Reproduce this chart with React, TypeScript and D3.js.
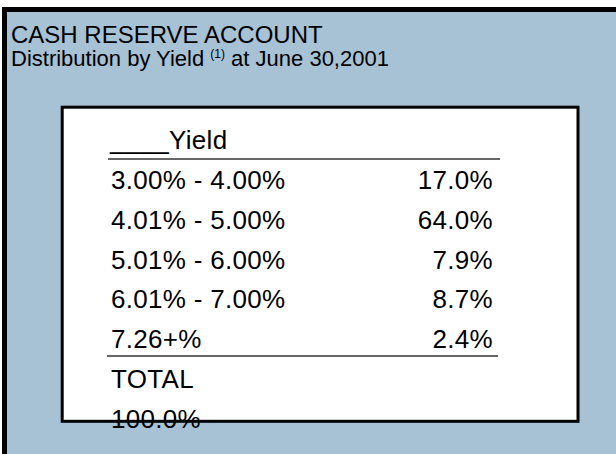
import React, { useEffect, useRef } from "react";
import * as d3 from "d3";

const titleLine1 = "CASH RESERVE ACCOUNT";
const titleLine2Parts = ["Distribution by Yield ", "(1)", " at June 30,2001"];
const headerLabel = "____Yield";
const yieldRanges = ["3.00% - 4.00%", "4.01% - 5.00%", "5.01% - 6.00%", "6.01% - 7.00%", "7.26+%"];
const shares = [17.0, 64.0, 7.9, 8.7, 2.4];
const totalLabel = "TOTAL";
const totalValue = 100.0;

const W = 616;
const H = 454;
const FONT = "'Liberation Sans', Arial, Helvetica, sans-serif";

export default function App() {
  const ref = useRef<SVGSVGElement | null>(null);

  useEffect(() => {
    const svg = d3.select(ref.current);
    svg.selectAll("*").remove();

    // frame
    svg.append("rect").attr("x", 0).attr("y", 0).attr("width", W).attr("height", H).attr("fill", "#ffffff");
    svg.append("rect").attr("x", 2).attr("y", 7).attr("width", W - 2).attr("height", H - 7).attr("fill", "#000000");
    svg.append("rect").attr("x", 7).attr("y", 12).attr("width", W - 7).attr("height", H - 12).attr("fill", "#a7c1d5");

    // title
    svg.append("text").attr("x", 11).attr("y", 43).attr("font-family", FONT).attr("font-size", 24)
      .attr("fill", "#000").text(titleLine1);
    const t2 = svg.append("text").attr("x", 11).attr("y", 66).attr("font-family", FONT).attr("font-size", 22)
      .attr("fill", "#000");
    t2.append("tspan").text(titleLine2Parts[0]);
    t2.append("tspan").attr("font-size", 12).attr("dy", -8).text(titleLine2Parts[1]);
    t2.append("tspan").attr("dy", 8).text(titleLine2Parts[2]);

    // inner box
    svg.append("rect").attr("x", 62.2).attr("y", 107.2).attr("width", 515.8).attr("height", 314.1)
      .attr("fill", "#ffffff").attr("stroke", "#000").attr("stroke-width", 3);

    // row scale: index -> baseline y
    const y = d3.scaleLinear().domain([0, 1]).range([189.3, 229]);
    const xLeft = 111;
    const xRight = 493;
    const xLine = d3.scaleLinear().domain([0, 1]).range([108, 500]);
    const fmt = d3.format(".1f");

    const g = svg.append("g").attr("font-family", FONT).attr("font-size", 26).attr("fill", "#000")
      .attr("letter-spacing", 0.3);

    g.append("text").attr("x", xLeft - 1).attr("y", y(-1) - 1).text(headerLabel);

    svg.append("line").attr("x1", xLine(0)).attr("x2", xLine(1)).attr("y1", 159).attr("y2", 159)
      .attr("stroke", "#333").attr("stroke-width", 1.5);

    g.selectAll("text.cat").data(yieldRanges).join("text").attr("class", "cat")
      .attr("x", xLeft).attr("y", (_d, i) => y(i)).text((d) => d);
    g.selectAll("text.val").data(shares).join("text").attr("class", "val")
      .attr("x", xRight).attr("y", (_d, i) => y(i)).attr("text-anchor", "end")
      .text((d) => fmt(d) + "%");

    svg.append("line").attr("x1", xLine(0) - 1).attr("x2", xLine(1) - 2).attr("y1", 356).attr("y2", 356)
      .attr("stroke", "#333").attr("stroke-width", 1.5);

    g.append("text").attr("x", xLeft).attr("y", y(yieldRanges.length)).text(totalLabel);
    g.append("text").attr("x", xLeft).attr("y", y(yieldRanges.length + 1)).text(fmt(totalValue) + "%");
  }, []);

  return (
    <svg
      ref={ref}
      width={W}
      height={H}
      style={{ position: "absolute", left: 0, top: 0, display: "block" }}
    />
  );
}
